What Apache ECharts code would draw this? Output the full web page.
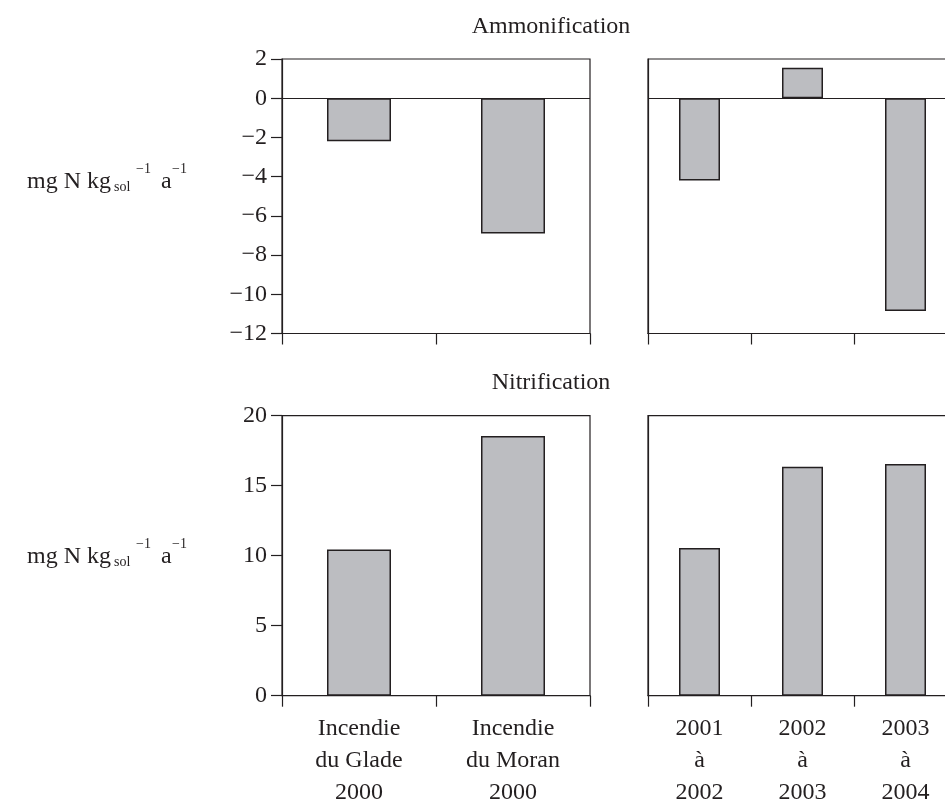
<!DOCTYPE html>
<html>
<head>
<meta charset="utf-8">
<script src="https://cdn.jsdelivr.net/npm/echarts@6/dist/echarts.min.js"></script>
<style>
html,body{margin:0;padding:0;background:#fff;overflow:hidden;}
#main{width:965px;height:812px;}
</style>
</head>
<body>
<div id="main"></div>
<script>
// ---- data ----
const fireCats = ['Incendie\ndu Glade\n2000', 'Incendie\ndu Moran\n2000'];
const yearCats = ['2001\nà\n2002', '2002\nà\n2003', '2003\nà\n2004'];
const ammonFire = [-2.2, -6.9];
const ammonYears = [-4.2, 1.55, -10.85];
const nitriFire = [10.45, 18.55];
const nitriYears = [10.55, 16.35, 16.55];
const titles = ['Ammonification', 'Nitrification'];

const INK = '#231f20';
const FONT = '"Liberation Serif", "Times New Roman", serif';
const BAR = '#bcbdc1';

const chart = echarts.init(document.getElementById('main'), null, {renderer: 'canvas'});

function grid(left, top, width, height) {
  return {left, top, width, height, show: true, borderColor: INK, borderWidth: 1.2, backgroundColor: 'transparent'};
}
function xAxis(idx, cats, showLabel) {
  return {
    type: 'category', gridIndex: idx, data: cats,
    axisLine: {onZero: false, lineStyle: {color: INK, width: 1.2}},
    axisTick: {show: true, length: 11, alignWithLabel: false, lineStyle: {color: INK, width: 1.2}},
    axisLabel: {show: showLabel, color: INK, fontFamily: FONT, fontSize: 24, lineHeight: 32, margin: 17, interval: 0},
    splitLine: {show: false}
  };
}
const minus = v => (v < 0 ? '\u2212' + Math.abs(v) : String(v));
function yAxis(idx, min, max, interval, showLabel) {
  return {
    type: 'value', gridIndex: idx, min, max, interval,
    axisLine: {show: true, lineStyle: {color: INK, width: 1.2}},
    axisTick: {show: showLabel, length: 11, lineStyle: {color: INK, width: 1.2}},
    axisLabel: {show: showLabel, color: INK, fontFamily: FONT, fontSize: 24, margin: 15, formatter: minus},
    splitLine: {show: false}
  };
}
function bars(idx, data, width, zeroLine) {
  const s = {
    type: 'bar', xAxisIndex: idx, yAxisIndex: idx, data, barWidth: width,
    itemStyle: {color: BAR, borderColor: INK, borderWidth: 1.5},
    silent: true
  };
  if (zeroLine) {
    s.markLine = {silent: true, symbol: 'none', label: {show: false},
      lineStyle: {color: INK, width: 1.2, type: 'solid'}, data: [{yAxis: 0}]};
  }
  return s;
}

function unitLabel(y) {
  const items = [
    {text: 'mg N kg', x: 27, y: y, size: 24},
    {text: 'sol', x: 114, y: y + 10, size: 14},
    {text: '\u22121', x: 136, y: y - 8, size: 14},
    {text: 'a', x: 161, y: y, size: 24},
    {text: '\u22121', x: 172, y: y - 8, size: 14}
  ];
  return items.map(it => ({
    type: 'text', left: it.x, top: it.y, silent: true,
    style: {text: it.text, fill: INK, font: it.size + 'px ' + FONT, verticalAlign: 'middle'}
  }));
}

const option = {
  backgroundColor: '#fff',
  animation: false,
  title: [
    {text: titles[0], left: 546, top: 10, textAlign: 'center',
      textStyle: {color: INK, fontFamily: FONT, fontSize: 24, fontWeight: 'normal'}},
    {text: titles[1], left: 546, top: 366, textAlign: 'center',
      textStyle: {color: INK, fontFamily: FONT, fontSize: 24, fontWeight: 'normal'}}
  ],
  grid: [
    grid(282, 59, 308, 274.5),
    grid(648, 59, 309, 274.5),
    grid(282, 415.7, 308, 280),
    grid(648, 415.7, 309, 280)
  ],
  xAxis: [
    xAxis(0, fireCats, false),
    xAxis(1, yearCats, false),
    xAxis(2, fireCats, true),
    xAxis(3, yearCats, true)
  ],
  yAxis: [
    yAxis(0, -12, 2, 2, true),
    yAxis(1, -12, 2, 2, false),
    yAxis(2, 0, 20, 5, true),
    yAxis(3, 0, 20, 5, false)
  ],
  series: [
    bars(0, ammonFire, 64, true),
    bars(1, ammonYears, 41, true),
    bars(2, nitriFire, 64, false),
    bars(3, nitriYears, 41, false)
  ],
  graphic: unitLabel(170).concat(unitLabel(545))
};
chart.setOption(option);
</script>
</body>
</html>
